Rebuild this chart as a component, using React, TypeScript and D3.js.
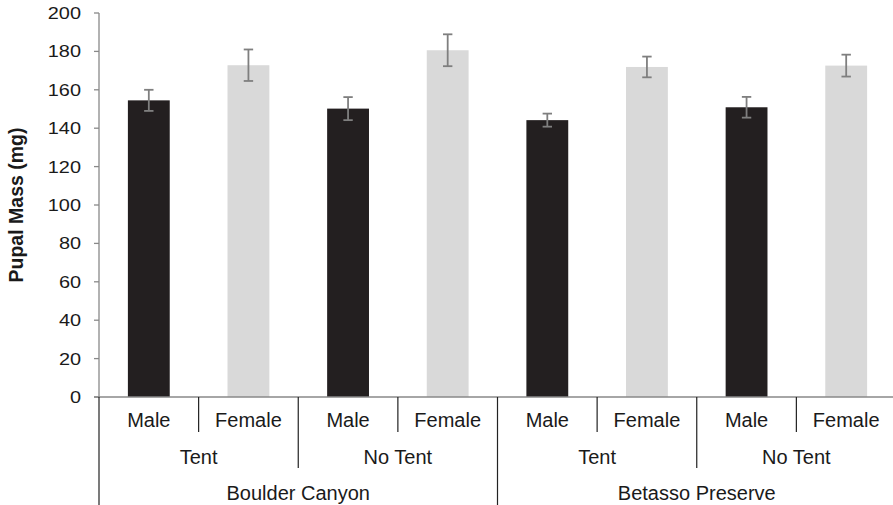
import React, { useEffect, useRef } from "react";
import * as d3 from "d3";

const sites = ["Boulder Canyon", "Betasso Preserve"];
const treatments = ["Tent", "No Tent"];
const sexes = ["Male", "Female"];
const means = [154.5, 172.8, 150.2, 180.6, 144.2, 171.9, 150.9, 172.6];
const errors = [5.5, 8.2, 6.0, 8.3, 3.4, 5.4, 5.4, 5.7];
const yTicks = [0, 20, 40, 60, 80, 100, 120, 140, 160, 180, 200];

const W = 893;
const H = 505;

export default function App() {
  const svgRef = useRef<SVGSVGElement>(null);

  useEffect(() => {
    if (!svgRef.current) return;
    const svg = d3.select(svgRef.current);
    svg.selectAll("*").remove();

    const left = 99;
    const right = 896;
    const top = 13;
    const bottom = 397;
    const font = "Liberation Sans, Arial, sans-serif";
    const axisColor = "#898989";
    const textColor = "#1a1a1a";

    // one entry per bar
    const cats: { site: string; treat: string; sex: string; i: number }[] = [];
    sites.forEach((s) =>
      treatments.forEach((t) =>
        sexes.forEach((x) => cats.push({ site: s, treat: t, sex: x, i: cats.length }))
      )
    );

    const x = d3
      .scaleBand<number>()
      .domain(cats.map((c) => c.i))
      .range([left, right])
      .paddingInner(0.58)
      .paddingOuter(0.29);
    const step = x.step();
    const catStart = (i: number) => left + i * step;

    const y = d3.scaleLinear().domain([0, 200]).range([bottom, top]);

    // bars
    svg
      .selectAll("rect.bar")
      .data(cats)
      .enter()
      .append("rect")
      .attr("class", "bar")
      .attr("x", (d) => x(d.i)!)
      .attr("width", x.bandwidth())
      .attr("y", (d) => y(means[d.i]))
      .attr("height", (d) => y(0) - y(means[d.i]))
      .attr("fill", (d) => (d.sex === "Male" ? "#231f20" : "#d9d9d9"));

    // error bars
    const eb = svg
      .selectAll("g.err")
      .data(cats)
      .enter()
      .append("g")
      .attr("class", "err")
      .attr("stroke", "#7f7f7f")
      .attr("stroke-width", 1.8);
    const cx = (d: any) => x(d.i)! + x.bandwidth() / 2;
    eb.append("line")
      .attr("x1", cx)
      .attr("x2", cx)
      .attr("y1", (d) => y(means[d.i] + errors[d.i]))
      .attr("y2", (d) => y(means[d.i] - errors[d.i]));
    [1, -1].forEach((sgn) => {
      eb.append("line")
        .attr("x1", (d) => cx(d) - 4.7)
        .attr("x2", (d) => cx(d) + 4.7)
        .attr("y1", (d) => y(means[d.i] + sgn * errors[d.i]))
        .attr("y2", (d) => y(means[d.i] + sgn * errors[d.i]));
    });

    // y axis
    const ax = svg.append("g").attr("stroke", axisColor).attr("stroke-width", 1.3);
    ax.append("line").attr("x1", left).attr("x2", left).attr("y1", top).attr("y2", bottom);
    svg
      .append("line")
      .attr("x1", left)
      .attr("x2", left)
      .attr("y1", bottom)
      .attr("y2", H)
      .attr("stroke", "#222")
      .attr("stroke-width", 1.2);
    ax.selectAll("line.tick")
      .data(yTicks)
      .enter()
      .append("line")
      .attr("class", "tick")
      .attr("x1", left - 5)
      .attr("x2", left)
      .attr("y1", (d) => y(d))
      .attr("y2", (d) => y(d));
    svg
      .selectAll("text.ytick")
      .data(yTicks)
      .enter()
      .append("text")
      .attr("class", "ytick")
      .attr("transform", (d) => `translate(81,${y(d) + 6}) scale(1.17,1)`)
      .attr("text-anchor", "end")
      .attr("font-family", font)
      .attr("font-size", 17)
      .attr("fill", textColor)
      .text((d) => d);

    // x axis line
    ax.append("line").attr("x1", left - 5).attr("x2", W).attr("y1", bottom).attr("y2", bottom);

    // separators for the three label rows
    const seps: { xp: number; y2: number }[] = [];
    for (let i = 1; i < cats.length; i++) {
      const y2 = i % 4 === 0 ? H : i % 2 === 0 ? 468 : 432;
      seps.push({ xp: catStart(i), y2 });
    }
    svg
      .selectAll("line.sep")
      .data(seps)
      .enter()
      .append("line")
      .attr("class", "sep")
      .attr("x1", (d) => d.xp)
      .attr("x2", (d) => d.xp)
      .attr("y1", bottom)
      .attr("y2", (d) => d.y2)
      .attr("stroke", "#222")
      .attr("stroke-width", 1.2);

    const label = (txt: string, xc: number, yc: number) =>
      svg
        .append("text")
        .attr("x", xc)
        .attr("y", yc)
        .attr("text-anchor", "middle")
        .attr("font-family", font)
        .attr("font-size", 20)
        .attr("fill", textColor)
        .text(txt);

    cats.forEach((c) => label(c.sex, catStart(c.i) + step / 2, 427));
    sites.forEach((s, si) => {
      treatments.forEach((t, ti) => {
        const g = si * 2 + ti;
        label(t, catStart(g * 2) + step, 464);
      });
      label(s, catStart(si * 4) + step * 2, 500);
    });

    // y title
    svg
      .append("text")
      .attr("transform", `translate(23,${(top + bottom) / 2}) rotate(-90)`)
      .attr("text-anchor", "middle")
      .attr("font-family", font)
      .attr("font-size", 19.5)
      .attr("font-weight", "bold")
      .attr("fill", textColor)
      .text("Pupal Mass (mg)");
  }, []);

  return (
    <svg
      ref={svgRef}
      width={W}
      height={H}
      style={{ position: "fixed", left: 0, top: 0, background: "#fff" }}
    />
  );
}
